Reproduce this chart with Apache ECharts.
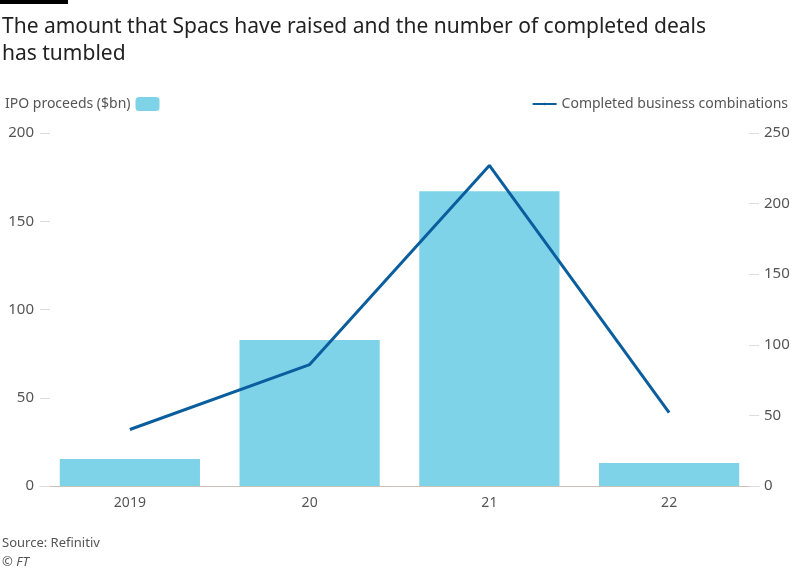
<!DOCTYPE html>
<html><head><meta charset="utf-8">
<script src="https://cdn.jsdelivr.net/npm/echarts@6/dist/echarts.min.js"></script>
<style>html,body{margin:0;padding:0;background:#fff}#c{width:799px;height:571px}</style>
</head><body><div id="c"></div>
<script>
var years = ['2019', '20', '21', '22'];
var ipoProceeds = [15.3, 82.7, 167, 13];
var completedDeals = [40, 86, 227, 52];

var chart = echarts.init(document.getElementById('c'));
var font = 'Noto Sans';
var option = {
    animation: false,
    textStyle: { fontFamily: font },
    graphic: [
        { type: 'rect', left: 0, top: 0, shape: { width: 68, height: 4 }, style: { fill: '#000' } },
        { type: 'text', left: 2, top: 14, style: { text: 'The amount that Spacs have raised and the number of completed deals\nhas tumbled', fontSize: 21, lineHeight: 27, fill: '#222', fontFamily: font } },
        { type: 'text', left: 2, top: 537, style: { text: 'Source: Refinitiv', fontSize: 13, fill: '#555', fontFamily: font } },
        { type: 'text', left: 2, top: 556, style: { text: '© FT', fontSize: 13, fontStyle: 'italic', fill: '#555', fontFamily: font } }
    ],
    legend: [
        { data: ['IPO proceeds ($bn)'], left: 0, top: 92, align: 'right', itemWidth: 24, itemHeight: 14, itemGap: 8,
          textStyle: { fontSize: 14, color: '#555' } },
        { data: ['Completed business combinations'], right: 6, top: 92, itemWidth: 24, itemHeight: 3,
          textStyle: { fontSize: 14, color: '#555' } }
    ],
    grid: { left: 40, right: 40, top: 133, bottom: 85 },
    xAxis: {
        type: 'category', data: years,
        axisLine: { lineStyle: { color: '#ccc1b7' } },
        axisTick: { alignWithLabel: true, length: 8, lineStyle: { color: '#ccc1b7' } },
        axisLabel: { color: '#555', fontSize: 14, margin: 10 }
    },
    yAxis: [
        { type: 'value', min: 0, max: 200, interval: 50, splitLine: { show: false },
          axisTick: { show: true, inside: true, length: 10, lineStyle: { color: '#ddd' } },
          axisLabel: { color: '#555', fontSize: 15, margin: 6 } },
        { type: 'value', min: 0, max: 250, interval: 50, splitLine: { show: false },
          axisTick: { show: true, inside: true, length: 10, lineStyle: { color: '#ddd' } },
          axisLabel: { color: '#555', fontSize: 15, margin: 5 } }
    ],
    series: [
        { name: 'IPO proceeds ($bn)', type: 'bar', data: ipoProceeds, barCategoryGap: '22%',
          itemStyle: { color: '#7fd3e8' } },
        { name: 'Completed business combinations', type: 'line', yAxisIndex: 1, data: completedDeals,
          symbol: 'none', lineStyle: { color: '#0a5e9e', width: 3 }, itemStyle: { color: '#0a5e9e' } }
    ]
};
chart.setOption(option);
</script></body></html>
